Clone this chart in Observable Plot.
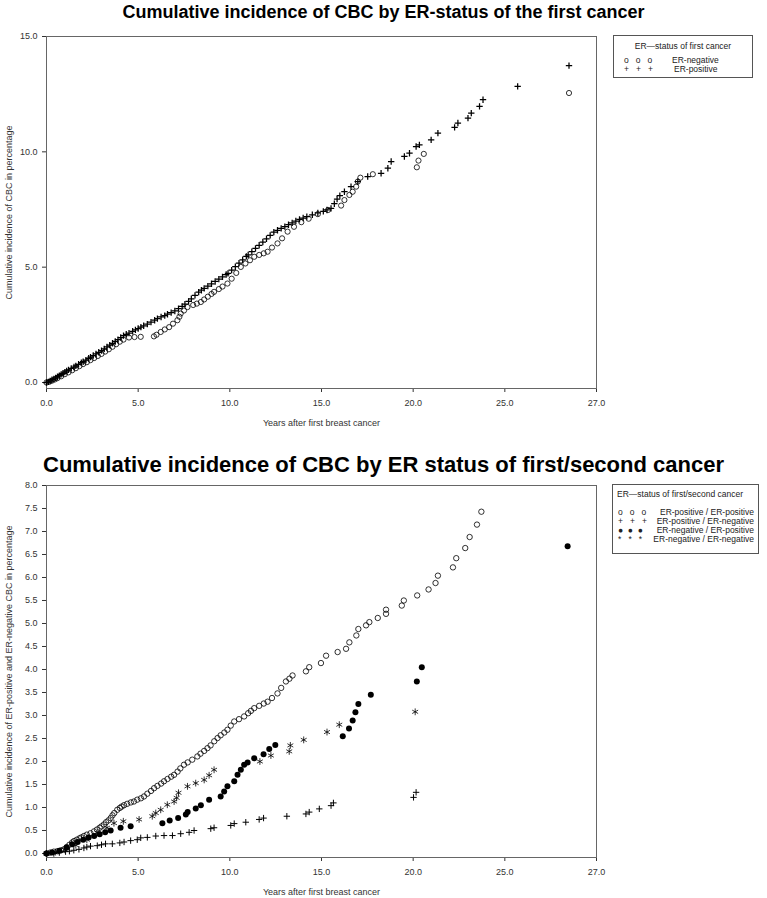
<!DOCTYPE html>
<html><head><meta charset="utf-8">
<script src="https://cdn.jsdelivr.net/npm/d3@7"></script>
<script src="https://cdn.jsdelivr.net/npm/@observablehq/plot@0.6"></script>
<style>
body{margin:0;background:#fff;font-family:"Liberation Sans",Arial,sans-serif;}
#page{position:relative;width:767px;height:898px;overflow:hidden;background:#fff;}
.title{position:absolute;left:0;width:767px;text-align:center;font-weight:bold;color:#000;white-space:nowrap;z-index:2;}
.chart{position:absolute;left:0;z-index:1;}
.legend{position:absolute;border:1px solid #555;background:#fff;font-size:8.5px;color:#222;z-index:3;}
.legend span{position:absolute;white-space:nowrap;}
</style></head>
<body><div id="page">
<div class="title" style="top:2px;font-size:18px;">Cumulative incidence of CBC by ER-status of the first cancer</div>
<div class="chart" id="c1" style="top:0px;"></div>
<div class="title" style="top:452px;font-size:22px;">Cumulative incidence of CBC by ER status of first/second cancer</div>
<div class="chart" id="c2" style="top:470px;"></div>
<div class="legend" style="left:613px;top:35px;width:138px;height:41px;">
  <span style="left:0;width:138px;text-align:center;top:5px;">ER—status of first cancer</span>
  <span style="left:10px;top:19px;">o&nbsp;&nbsp;&nbsp;o&nbsp;&nbsp;&nbsp;o</span><span style="left:58px;top:19px;">ER-negative</span>
  <span style="left:10px;top:28px;">+&nbsp;&nbsp;&nbsp;+&nbsp;&nbsp;&nbsp;+</span><span style="left:60px;top:28px;">ER-positive</span>
</div>
<div class="legend" style="left:612px;top:484px;width:145px;height:68px;">
  <span style="left:4px;top:4px;">ER—status of first/second cancer</span>
  <span style="left:5px;top:22px;">o&nbsp;&nbsp;&nbsp;o&nbsp;&nbsp;&nbsp;o</span><span style="right:4px;top:22px;">ER-positive / ER-positive</span>
  <span style="left:5px;top:31px;">+&nbsp;&nbsp;&nbsp;+&nbsp;&nbsp;&nbsp;+</span><span style="right:4px;top:31px;">ER-positive / ER-negative</span>
  <span style="left:5px;top:40px;">●&nbsp;&nbsp;●&nbsp;&nbsp;●</span><span style="right:4px;top:40px;">ER-negative / ER-positive</span>
  <span style="left:5px;top:49px;">*&nbsp;&nbsp;&nbsp;*&nbsp;&nbsp;&nbsp;*</span><span style="right:4px;top:49px;">ER-negative / ER-negative</span>
</div>
</div>
<script>
// ---- data: [years, cumulative incidence %] ----
const xTicks = [0, 5, 10, 15, 20, 25, 27];
const yTicksTop = [0, 5, 10, 15];
const yTicksBottom = [0, 0.5, 1, 1.5, 2, 2.5, 3, 3.5, 4, 4.5, 5, 5.5, 6, 6.5, 7, 7.5, 8];

const topPositive = [[0,0],[0.1,0.03],[0.2,0.07],[0.3,0.12],[0.4,0.16],[0.5,0.2],[0.6,0.25],[0.7,0.3],[0.8,0.35],[0.9,0.4],[1.0,0.45],[1.1,0.5],[1.2,0.55],[1.35,0.61],[1.5,0.67],[1.6,0.72],[1.75,0.79],[1.9,0.86],[2.0,0.9],[2.15,0.97],[2.3,1.05],[2.4,1.1],[2.55,1.17],[2.7,1.24],[2.85,1.31],[3.0,1.38],[3.15,1.46],[3.3,1.54],[3.45,1.62],[3.6,1.7],[3.75,1.78],[3.9,1.86],[4.05,1.95],[4.2,2.03],[4.35,2.09],[4.5,2.14],[4.7,2.22],[4.85,2.28],[5.0,2.34],[5.15,2.4],[5.3,2.46],[5.5,2.53],[5.7,2.62],[5.9,2.7],[6.05,2.77],[6.25,2.84],[6.45,2.9],[6.6,2.96],[6.8,3.03],[7.0,3.1],[7.2,3.2],[7.4,3.3],[7.55,3.4],[7.75,3.52],[7.9,3.63],[8.1,3.78],[8.3,3.92],[8.45,4.0],[8.6,4.08],[8.8,4.18],[9.0,4.28],[9.2,4.38],[9.4,4.48],[9.6,4.58],[9.8,4.68],[9.9,4.73],[10.1,4.87],[10.3,5.02],[10.5,5.17],[10.7,5.32],[10.9,5.47],[11.0,5.53],[11.2,5.67],[11.4,5.81],[11.6,5.95],[11.8,6.09],[12.0,6.23],[12.2,6.38],[12.4,6.52],[12.6,6.6],[12.8,6.68],[13.0,6.76],[13.2,6.84],[13.4,6.92],[13.6,7.0],[13.8,7.07],[14.0,7.13],[14.2,7.19],[14.5,7.27],[14.8,7.35],[15.1,7.42],[15.3,7.48],[15.52,7.55],[15.7,7.75],[15.85,7.95],[16.0,8.1],[16.25,8.27],[16.61,8.49],[16.98,8.71],[17.52,8.93],[18.25,9.07],[18.62,9.29],[18.8,9.58],[19.52,9.8],[19.8,9.94],[20.16,10.23],[20.34,10.3],[20.98,10.52],[21.35,10.81],[22.26,11.06],[22.44,11.25],[22.99,11.46],[23.17,11.68],[23.62,11.97],[23.81,12.26],[25.28,12.84],[26.4,13.74]];

const topNegative = [[0,0],[0.15,0.03],[0.3,0.08],[0.45,0.13],[0.6,0.19],[0.8,0.27],[1.0,0.36],[1.2,0.44],[1.4,0.53],[1.6,0.62],[1.8,0.71],[2.0,0.8],[2.2,0.88],[2.4,0.97],[2.6,1.06],[2.8,1.15],[3.0,1.24],[3.2,1.34],[3.4,1.44],[3.6,1.55],[3.8,1.66],[4.0,1.77],[4.2,1.86],[4.5,1.95],[4.8,1.97],[5.14,1.98],[5.86,2.0],[6.0,2.07],[6.23,2.19],[6.45,2.3],[6.69,2.4],[6.9,2.55],[7.14,2.7],[7.25,2.85],[7.32,2.99],[7.5,3.12],[7.69,3.27],[8.0,3.36],[8.2,3.42],[8.42,3.49],[8.6,3.6],[8.8,3.72],[9.0,3.84],[9.14,3.93],[9.4,4.05],[9.6,4.16],[9.87,4.29],[10.1,4.5],[10.35,4.75],[10.6,5.01],[10.85,5.16],[11.1,5.3],[11.33,5.45],[11.6,5.53],[11.85,5.6],[12.06,5.67],[12.3,5.85],[12.6,6.03],[12.85,6.25],[13.15,6.54],[13.5,6.75],[13.9,6.95],[14.3,7.1],[14.8,7.3],[15.36,7.48],[16.07,7.67],[16.25,7.91],[16.52,8.13],[16.7,8.27],[16.89,8.49],[16.98,8.71],[17.12,8.88],[17.8,9.03],[20.2,9.33],[20.29,9.62],[20.58,9.91],[26.4,12.55]];

const posPos = [[0,0],[0.2,0.02],[0.4,0.04],[0.6,0.05],[0.8,0.07],[0.95,0.09],[1.1,0.14],[1.25,0.19],[1.4,0.24],[1.5,0.27],[1.65,0.3],[1.8,0.33],[1.9,0.35],[2.04,0.38],[2.2,0.41],[2.4,0.44],[2.59,0.48],[2.75,0.52],[2.9,0.56],[3.0,0.59],[3.13,0.63],[3.25,0.68],[3.38,0.72],[3.5,0.77],[3.6,0.83],[3.7,0.88],[3.86,0.95],[4.0,0.99],[4.1,1.02],[4.23,1.05],[4.4,1.08],[4.6,1.11],[4.77,1.13],[4.95,1.17],[5.15,1.2],[5.32,1.24],[5.5,1.3],[5.7,1.36],[5.87,1.42],[6.05,1.47],[6.25,1.52],[6.41,1.57],[6.6,1.62],[6.8,1.67],[6.96,1.71],[7.15,1.78],[7.3,1.85],[7.5,1.93],[7.7,1.98],[7.95,2.04],[8.23,2.11],[8.4,2.17],[8.6,2.23],[8.78,2.29],[8.95,2.35],[9.15,2.44],[9.33,2.51],[9.5,2.57],[9.7,2.63],[9.87,2.69],[10.05,2.78],[10.24,2.87],[10.5,2.92],[10.78,2.98],[11.0,3.05],[11.15,3.1],[11.33,3.16],[11.6,3.21],[11.85,3.26],[12.06,3.3],[12.3,3.38],[12.6,3.48],[12.8,3.6],[13.06,3.74],[13.25,3.8],[13.42,3.87],[14.15,3.96],[14.33,4.05],[14.97,4.14],[15.25,4.3],[15.88,4.38],[16.34,4.45],[16.52,4.59],[16.9,4.74],[17.01,4.88],[17.43,4.96],[17.61,5.03],[18.07,5.12],[18.52,5.21],[18.52,5.3],[19.38,5.39],[19.49,5.5],[20.22,5.61],[20.84,5.74],[21.22,5.88],[21.35,6.04],[22.17,6.22],[22.35,6.42],[22.84,6.64],[23.08,6.88],[23.48,7.15],[23.72,7.43]];

const posNeg = [[0,0],[0.4,0.0],[0.7,0.02],[1.04,0.04],[1.25,0.05],[1.49,0.07],[1.77,0.09],[2.04,0.12],[2.2,0.14],[2.4,0.16],[2.77,0.17],[3.0,0.19],[3.22,0.21],[3.59,0.21],[4.0,0.23],[4.23,0.25],[4.59,0.28],[4.95,0.3],[5.14,0.34],[5.5,0.35],[5.96,0.38],[6.41,0.39],[6.87,0.39],[7.32,0.43],[7.78,0.46],[8.05,0.5],[8.96,0.54],[9.14,0.56],[10.05,0.61],[10.24,0.65],[10.87,0.68],[11.6,0.74],[11.84,0.77],[13.11,0.81],[14.15,0.86],[14.33,0.9],[14.88,0.97],[15.52,1.04],[15.65,1.1],[20.02,1.22],[20.16,1.33]];

const negPos = [[0,0],[0.3,0.02],[0.7,0.06],[1.1,0.13],[1.4,0.2],[1.7,0.25],[2.0,0.3],[2.3,0.35],[2.6,0.38],[2.9,0.42],[3.2,0.46],[3.5,0.5],[4.04,0.56],[4.59,0.59],[6.32,0.66],[6.72,0.72],[7.18,0.77],[7.6,0.85],[7.7,0.9],[8.14,0.98],[8.42,1.05],[8.87,1.17],[9.5,1.24],[9.69,1.35],[9.87,1.46],[10.24,1.57],[10.42,1.71],[10.6,1.82],[10.78,1.93],[10.97,1.98],[11.33,2.07],[11.84,2.16],[12.15,2.27],[12.48,2.36],[16.16,2.55],[16.5,2.72],[16.7,2.89],[16.85,3.07],[17.01,3.25],[17.69,3.45],[20.2,3.74],[20.47,4.05],[26.37,6.68]];

const negNeg = [[0,0],[0.5,0.03],[1.0,0.08],[1.6,0.18],[2.2,0.3],[2.8,0.45],[3.3,0.56],[3.68,0.66],[4.19,0.7],[5.05,0.74],[5.77,0.81],[5.96,0.88],[6.23,0.95],[6.59,1.06],[6.96,1.13],[7.1,1.21],[7.2,1.32],[7.69,1.46],[8.14,1.53],[8.6,1.6],[8.87,1.7],[9.14,1.82],[11.64,2.0],[12.24,2.13],[13.24,2.22],[13.3,2.35],[14.03,2.47],[15.3,2.64],[15.97,2.8],[20.11,3.08]];

// ---- layout ----
const left = 46, right = 596;
const fmt = d => d.toFixed(1);
const style = {fontSize: "9px", fontFamily: "'Liberation Sans', Arial, sans-serif", color: "#333", overflow: "visible"};
const X = d => d[0], Y = d => d[1];
// piecewise (polylinear) x scale: equally spaced ticks, as in the original
const xScale = {type: "linear", domain: xTicks, ticks: xTicks, tickFormat: fmt, tickSize: 4, tickPadding: 7,
  label: "Years after first breast cancer", labelAnchor: "center", labelOffset: 37, labelArrow: "none"};

const p1 = Plot.plot({
  width: 767, height: 432,
  marginLeft: left, marginRight: 767 - right, marginTop: 36, marginBottom: 44,
  style,
  x: xScale,
  y: {domain: [-0.26, 15], ticks: yTicksTop, tickFormat: fmt, tickSize: 4, label: "Cumulative incidence of CBC in percentage", labelAnchor: "center", labelOffset: 41, labelArrow: "none"},
  marks: [
    Plot.frame({stroke: "#666"}),
    Plot.dot(topNegative, {x: X, y: Y, r: 2.6, stroke: "black", fill: "none", strokeWidth: 0.8}),
    Plot.dot(topPositive, {x: X, y: Y, symbol: "plus", r: 2.2, stroke: "black", strokeWidth: 1.25})
  ]
});
document.getElementById("c1").appendChild(p1);

const p2 = Plot.plot({
  width: 767, height: 428,
  marginLeft: left, marginRight: 767 - right, marginTop: 15, marginBottom: 41,
  style,
  x: xScale,
  y: {domain: [-0.087, 8], ticks: yTicksBottom, tickFormat: fmt, tickSize: 4, label: "Cumulative incidence of ER-positive and ER-negative CBC in percentage", labelAnchor: "center", labelOffset: 41, labelArrow: "none"},
  marks: [
    Plot.frame({stroke: "#666"}),
    Plot.dot(posNeg, {x: X, y: Y, symbol: "plus", r: 2.2, stroke: "black", strokeWidth: 1}),
    Plot.dot(negNeg, {x: X, y: Y, symbol: "asterisk", r: 3.2, stroke: "black", strokeWidth: 0.8}),
    Plot.dot(negPos, {x: X, y: Y, r: 3, fill: "black", stroke: "none"}),
    Plot.dot(posPos, {x: X, y: Y, r: 2.7, stroke: "black", fill: "none", strokeWidth: 0.8})
  ]
});
document.getElementById("c2").appendChild(p2);
</script>
</body></html>
